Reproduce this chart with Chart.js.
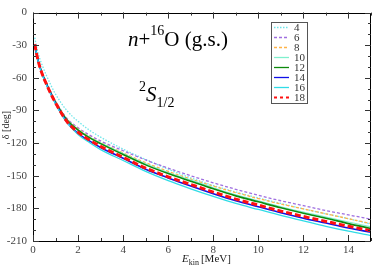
<!DOCTYPE html>
<html>
<head>
<meta charset="utf-8">
<script src="https://cdn.jsdelivr.net/npm/chart.js@4.4.1/dist/chart.umd.min.js"></script>
<style>
  html, body { margin: 0; padding: 0; background: #fff; }
  #wrap { width: 374px; height: 266px; }
</style>
</head>
<body>
<div id="wrap"><canvas id="chart" width="374" height="266"></canvas></div>
<script>
// E_kin grid (MeV) the curves were read at
const energies = [0.08, 0.15, 0.25, 0.4, 0.6, 0.8, 1.0, 1.5, 2, 2.5, 3, 4, 5, 6, 7, 8, 9, 10, 11, 12, 13, 14, 15];

// phase shifts (deg), one list per basis size
const delta4 = [-23, -31, -39, -48, -58, -67, -75, -90, -100, -108, -114.5, -125.5, -135, -144, -152, -159, -165, -170.5, -175.5, -180.5, -185, -189.5, -194.5];
const delta6 = [-29, -37, -46, -55.5, -65, -73.5, -81.5, -97, -106, -112.5, -118, -127, -135.5, -143, -150, -156.5, -162.5, -168, -173, -177.5, -182, -186, -190];
const delta8 = [-29, -37, -46, -55.5, -65, -74, -82, -98, -107, -114, -119.5, -129, -138, -146, -153, -159.5, -165.5, -171, -176, -180.5, -185, -189.5, -194];
const delta10 = [-29, -37, -46, -55.5, -65, -74, -82, -98, -107.5, -114.5, -120, -129.5, -139, -147, -154, -161, -167.5, -173, -178.5, -183.5, -188, -192.5, -197];
const delta12 = [-29, -37, -46, -55.5, -65.5, -74.5, -82.5, -98.5, -108, -115, -120.5, -130.5, -140, -148, -155, -162, -168.5, -174, -179.5, -184.5, -189, -194, -198.5];
const delta14 = [-29, -37, -46, -56, -66, -75, -83.5, -100.5, -111, -118, -124, -134, -144, -152, -159.5, -166.5, -173, -178.5, -184, -189, -193.5, -198, -202];
const delta16 = [-29, -37, -46.5, -56.5, -66.5, -75.5, -84, -101, -112, -119.5, -126, -136, -146, -154.5, -162, -169, -175.5, -181, -186.5, -191.5, -196.5, -201, -205];
const delta18 = [-29, -37, -46, -56, -66, -75, -83, -100, -110, -117, -123, -133, -143, -151, -158, -165, -171.5, -177, -182.5, -187.5, -192, -196.5, -200.5];

const seriesLabels = ['4', '6', '8', '10', '12', '14', '16', '18'];
const seriesData = [delta4, delta6, delta8, delta10, delta12, delta14, delta16, delta18];

const xTicks = [0, 2, 4, 6, 8, 10, 12, 14];
const yTicks = [0, -30, -60, -90, -120, -150, -180, -210];

const styles = [
    { color: '#6fe6ea', width: 1.3, dash: [1.5, 1.5] },
    { color: '#9f6fe0', width: 1.3, dash: [3, 2] },
    { color: '#ffb347', width: 1.3, dash: [3, 2] },
    { color: '#7ff0cc', width: 1.2, dash: [] },
    { color: '#0c8a0c', width: 1.6, dash: [] },
    { color: '#1010e8', width: 1.6, dash: [] },
    { color: '#30dce6', width: 1.3, dash: [] },
    { color: '#ff1010', width: 3, dash: [6, 3] },
];

const serif = '"Liberation Serif", "DejaVu Serif", serif';

const datasets = seriesData.map((values, i) => ({
    label: seriesLabels[i],
    data: energies.map((e, j) => ({ x: e, y: values[j] })),
    borderColor: styles[i].color,
    borderWidth: styles[i].width,
    borderDash: styles[i].dash,
    pointRadius: 0,
    fill: false,
    cubicInterpolationMode: 'monotone',
    order: seriesData.length - i,
}));

const tickMarks = (ctx, area, scale, from, to, step, len, horizontal) => {
    for (let v = from; v <= to + 1e-9; v += step) {
        const p = Math.round(scale.getPixelForValue(v)) + 0.5;
        ctx.beginPath();
        if (horizontal) {
            ctx.moveTo(p, area.bottom); ctx.lineTo(p, area.bottom - len);
            ctx.moveTo(p, area.top); ctx.lineTo(p, area.top + len);
        } else {
            ctx.moveTo(area.left, p); ctx.lineTo(area.left + len, p);
            ctx.moveTo(area.right, p); ctx.lineTo(area.right - len, p);
        }
        ctx.stroke();
    }
};

// text with smaller raised / lowered parts
const drawRuns = (ctx, x, y, runs) => {
    runs.forEach((r) => {
        ctx.font = r.font;
        ctx.fillText(r.text, x, y + (r.dy || 0));
        x += ctx.measureText(r.text).width + (r.gap || 0);
    });
};

const framePlugin = {
    id: 'frame',
    afterDatasetsDraw(chart) {
        const { ctx, chartArea: a, scales } = chart;
        ctx.save();
        ctx.strokeStyle = '#000';
        ctx.lineWidth = 1;
        ctx.strokeRect(Math.round(a.left) + 0.5, Math.round(a.top) + 0.5, Math.round(a.right - a.left) - 1, Math.round(a.bottom - a.top));

        ctx.strokeStyle = '#333';
        tickMarks(ctx, a, scales.x, 0, 15, 1, 3, true);
        tickMarks(ctx, a, scales.x, 0, 14, 2, 6, true);
        tickMarks(ctx, a, scales.y, -210, 0, 10, 3, false);
        tickMarks(ctx, a, scales.y, -210, 0, 30, 6, false);

        // legend box
        ctx.fillStyle = '#fff';
        ctx.fillRect(271, 22, 36, 81);
        ctx.strokeStyle = '#555';
        ctx.strokeRect(271.5, 22.5, 36, 81);
        seriesLabels.forEach((label, i) => {
            const y = 27.5 + i * 10;
            ctx.beginPath();
            ctx.strokeStyle = styles[i].color;
            ctx.lineWidth = i === 7 ? 2 : 1.3;
            ctx.setLineDash(i === 7 ? [3, 3] : styles[i].dash);
            ctx.moveTo(274, y);
            ctx.lineTo(289, y);
            ctx.stroke();
            ctx.setLineDash([]);
            ctx.fillStyle = '#333';
            ctx.font = '11px ' + serif;
            ctx.textBaseline = 'middle';
            ctx.fillText(label, 294, y + 0.5);
        });

        // annotations
        ctx.textBaseline = 'alphabetic';
        ctx.fillStyle = '#000';
        drawRuns(ctx, 128, 46, [
            { text: 'n', font: 'italic 21px ' + serif },
            { text: '+', font: '21px ' + serif },
            { text: '16', font: '14px ' + serif, dy: -11 },
            { text: 'O (g.s.)', font: '21px ' + serif },
        ]);
        drawRuns(ctx, 139, 101, [
            { text: '2', font: '14px ' + serif, dy: -10 },
            { text: 'S', font: 'italic 21px ' + serif },
            { text: '1/2', font: '14px ' + serif, dy: 6 },
        ]);

        // axis titles
        ctx.fillStyle = '#222';
        drawRuns(ctx, 182, 262, [
            { text: 'E', font: 'italic 11px ' + serif },
            { text: 'kin', font: '8px ' + serif, dy: 3, gap: 2 },
            { text: '[MeV]', font: '11px ' + serif },
        ]);
        ctx.translate(9, 125);
        ctx.rotate(-Math.PI / 2);
        ctx.font = '10px ' + serif;
        ctx.textAlign = 'center';
        ctx.fillText('δ [deg]', 0, 0);
        ctx.restore();
    },
};

new Chart(document.getElementById('chart'), {
    type: 'line',
    data: { datasets },
    options: {
        responsive: false,
        animation: false,
        layout: { padding: { top: 5, right: 3, left: 0, bottom: 0 } },
        plugins: { legend: { display: false }, tooltip: { enabled: false } },
        scales: {
            x: {
                type: 'linear',
                min: 0,
                max: 15,
                afterBuildTicks: (scale) => { scale.ticks = xTicks.map((v) => ({ value: v })); },
                afterFit: (scale) => { scale.height = 25; },
                grid: { display: false, drawTicks: false },
                border: { display: false },
                ticks: { color: '#444', padding: 3, maxRotation: 0, font: { family: serif, size: 11 } },
            },
            y: {
                min: -210,
                max: 0,
                afterBuildTicks: (scale) => { scale.ticks = yTicks.map((v) => ({ value: v })); },
                afterFit: (scale) => { scale.width = 33; },
                grid: { display: false, drawTicks: false },
                border: { display: false },
                ticks: { color: '#444', padding: 6, font: { family: serif, size: 11 } },
            },
        },
    },
    plugins: [framePlugin],
});
</script>
</body>
</html>
